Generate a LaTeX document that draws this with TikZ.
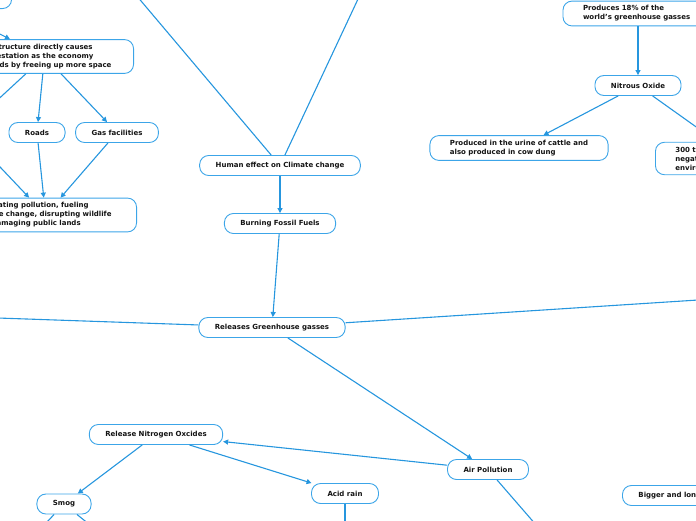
\documentclass[tikz,border=0pt]{standalone}
\usepackage{fontspec}
\setmainfont{DejaVu Sans}
\usetikzlibrary{arrows.meta}
\definecolor{linkblue}{RGB}{38,150,222}
\definecolor{boxblue}{RGB}{60,165,232}
\definecolor{inkblack}{RGB}{20,20,20}
\begin{document}
\begin{tikzpicture}[x=1pt, y=-1pt, node distance=58pt,
	topic/.style={draw=boxblue, line width=0.9pt, rounded corners=9pt, fill=white, text=inkblack,
		font=\bfseries\fontsize{7}{9}\selectfont, inner xsep=16pt, inner ysep=5pt, minimum height=20pt},
	note/.style={topic, align=left, inner xsep=20pt, inner ysep=4.5pt},
	link/.style={draw=linkblue, line width=1.1pt},
	>={Triangle[length=5pt, width=5pt]}]
	\useasboundingbox (0,0) rectangle (696,520);
	\clip (0,0) rectangle (696,520);
	% nodes
	\node (TL) [topic, anchor=south east, minimum width=90pt] at (12,9) {};
	\node (IN) [note, anchor=east, text width=138pt] at (134,56.5) {Infrastructure directly causes\\deforestation as the economy\\expands by freeing up more space};
	\node (RD) [topic] at (37,132.5) {Roads};
	\node (GF) [topic] at (117,132.5) {Gas facilities};
	\node (PO) [note, anchor=east, text width=142pt] at (137,215) {Generating pollution, fueling\\climate change, disrupting wildlife\\and damaging public lands};
	\node (HE) [topic] at (280,165.5) {Human effect on Climate change};
	\node (BF) [topic, below of=HE] {Burning Fossil Fuels};
	\node (RG) [topic] at (272,327.5) {Releases Greenhouse gasses};
	\node (AP) [topic] at (488,469.5) {Air Pollution};
	\node (RN) [topic] at (156,434.5) {Release Nitrogen Oxcides};
	\node (SM) [topic] at (64,504) {Smog};
	\node (AR) [topic] at (345,493.5) {Acid rain};
	\node (BL) [topic, anchor=west] at (622,495.5) {Bigger and longer droughts};
	\node (PR) [note, text width=110pt] at (638,13.5) {Produces 18\% of the\\world's greenhouse gasses};
	\node (NO) [topic, below of=PR, node distance=72pt] {Nitrous Oxide};
	\node (UR) [note] at (519,148) {Produced in the urine of cattle and\\also produced in cow dung};
	\node (TT) [note, anchor=west, text width=130pt] at (655,158.5) {300 times more\\negative impact on the\\environment than CO2};
	% ends of links that run out of the picture
	\coordinate (oA) at (-52,8);
	\coordinate (oL) at (-35,130);
	\coordinate (oTL) at (98,-50);
	\coordinate (oTR) at (381,-50);
	\coordinate (oRL) at (-60,316);
	\coordinate (oRR) at (760,296);
	\coordinate (oS1) at (30,540);
	\coordinate (oS2) at (100,533);
	\coordinate (oAR) at (345,560);
	\coordinate (oAP) at (550,541);
	% links
	\draw[link, ->] (oA) to (IN);
	\draw[link] (IN) to (oL);
	\draw[link, ->] (IN) to (RD);
	\draw[link, ->] (IN) to (GF);
	\draw[link, ->] (oL) to (PO);
	\draw[link, ->] (RD) to (PO);
	\draw[link, ->] (GF) to (PO);
	\draw[link] (HE) to (oTL);
	\draw[link] (HE) to (oTR);
	\draw[link, ->] (HE) to (BF);
	\draw[link, ->] (BF) to (RG);
	\draw[link] (RG) to (oRL);
	\draw[link] (RG) to (oRR);
	\draw[link, ->] (RG) to (AP);
	\draw[link, ->] (AP) to (RN);
	\draw[link, ->] (RN) to (SM);
	\draw[link, ->] (RN) to (AR);
	\draw[link] (SM) to (oS1);
	\draw[link] (SM) to (oS2);
	\draw[link] (AR) to (oAR);
	\draw[link] (AP) to (oAP);
	\draw[link, ->] (PR) to (NO);
	\draw[link, ->] (NO) to (UR);
	\draw[link, ->] (NO) to (TT);
\end{tikzpicture}
\end{document}
